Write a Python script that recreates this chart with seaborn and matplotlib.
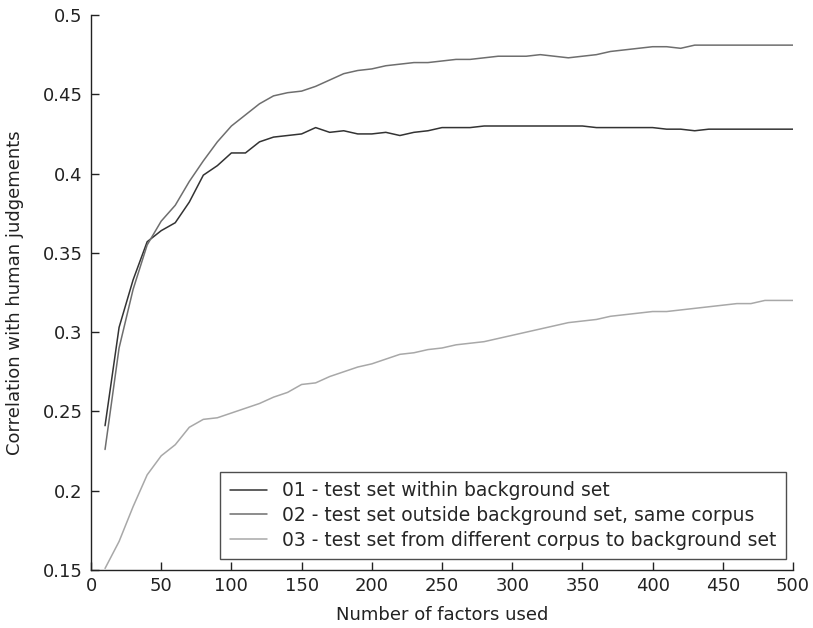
import numpy as np
import pandas as pd
import seaborn as sns
import matplotlib.pyplot as plt

# number of factors (x axis)
factors = list(range(10, 501, 10))

# 01 - test set within background set
within = [0.241, 0.303, 0.333, 0.357, 0.364, 0.369, 0.382, 0.399, 0.405, 0.413,
          0.413, 0.420, 0.423, 0.424, 0.425, 0.429, 0.426, 0.427, 0.425, 0.425,
          0.426, 0.424, 0.426, 0.427, 0.429, 0.429, 0.429, 0.430, 0.430, 0.430,
          0.430, 0.430, 0.430, 0.430, 0.430, 0.429, 0.429, 0.429, 0.429, 0.429,
          0.428, 0.428, 0.427, 0.428, 0.428, 0.428, 0.428, 0.428, 0.428, 0.428]

# 02 - test set outside background set, same corpus
outside = [0.226, 0.290, 0.327, 0.355, 0.370, 0.380, 0.395, 0.408, 0.420, 0.430,
           0.437, 0.444, 0.449, 0.451, 0.452, 0.455, 0.459, 0.463, 0.465, 0.466,
           0.468, 0.469, 0.470, 0.470, 0.471, 0.472, 0.472, 0.473, 0.474, 0.474,
           0.474, 0.475, 0.474, 0.473, 0.474, 0.475, 0.477, 0.478, 0.479, 0.480,
           0.480, 0.479, 0.481, 0.481, 0.481, 0.481, 0.481, 0.481, 0.481, 0.481]

# 03 - test set from different corpus to background set
different = [0.151, 0.168, 0.190, 0.210, 0.222, 0.229, 0.240, 0.245, 0.246, 0.249,
             0.252, 0.255, 0.259, 0.262, 0.267, 0.268, 0.272, 0.275, 0.278, 0.280,
             0.283, 0.286, 0.287, 0.289, 0.290, 0.292, 0.293, 0.294, 0.296, 0.298,
             0.300, 0.302, 0.304, 0.306, 0.307, 0.308, 0.310, 0.311, 0.312, 0.313,
             0.313, 0.314, 0.315, 0.316, 0.317, 0.318, 0.318, 0.320, 0.320, 0.320]

labels = ['01 - test set within background set',
          '02 - test set outside background set, same corpus',
          '03 - test set from different corpus to background set']
colors = ['#333333', '#6e6e6e', '#a8a8a8']

df = pd.DataFrame({'factors': factors * 3,
                   'corr': within + outside + different,
                   'set': [labels[0]] * len(factors) + [labels[1]] * len(factors) + [labels[2]] * len(factors)})

sns.set_style('ticks')
plt.rcParams['font.family'] = ['DejaVu Sans']
plt.rcParams['xtick.direction'] = 'in'
plt.rcParams['ytick.direction'] = 'in'

fig = plt.figure(figsize=(8.13, 6.28), dpi=100)
# axes box in pixels: x 91..793, y 15..570
ax = fig.add_axes([91 / 813, 1 - 570 / 628, (793 - 91) / 813, (570 - 15) / 628])
sns.lineplot(data=df, x='factors', y='corr', hue='set', palette=colors, linewidth=1.1, ax=ax)

ax.set_xlim(0, 500)
ax.set_ylim(0.15, 0.5)
ax.set_xticks(np.arange(0, 501, 50))
ax.set_yticks([0.15, 0.2, 0.25, 0.3, 0.35, 0.4, 0.45, 0.5])
ax.set_yticklabels(['0.15', '0.2', '0.25', '0.3', '0.35', '0.4', '0.45', '0.5'])
ax.tick_params(labelsize=13, length=5.5, width=1, color='#222222', labelcolor='#222222')
ax.tick_params(axis='x', pad=5)
ax.tick_params(axis='y', pad=6)
ax.set_xlabel('Number of factors used', fontsize=13, color='#222222')
ax.set_ylabel('Correlation with human judgements', fontsize=13, color='#222222')
ax.xaxis.set_label_coords(0.5, -(606 - 570) / 555, transform=ax.transAxes)
ax.yaxis.set_label_coords(-(91 - 24) / 702, 0.5, transform=ax.transAxes)
sns.despine(ax=ax)
for s in ['left', 'bottom']:
    ax.spines[s].set_linewidth(1)
    ax.spines[s].set_color('#222222')

leg = ax.legend(loc='lower right', bbox_to_anchor=((786 - 91) / 702, (570 - 559) / 555),
                fontsize=13.5, frameon=True, fancybox=False, edgecolor='#222222',
                handlelength=2.0, handletextpad=0.8, labelspacing=0.3,
                borderpad=0.5, borderaxespad=0)
leg.get_frame().set_linewidth(1)

fig.savefig('out.png', dpi=100)
